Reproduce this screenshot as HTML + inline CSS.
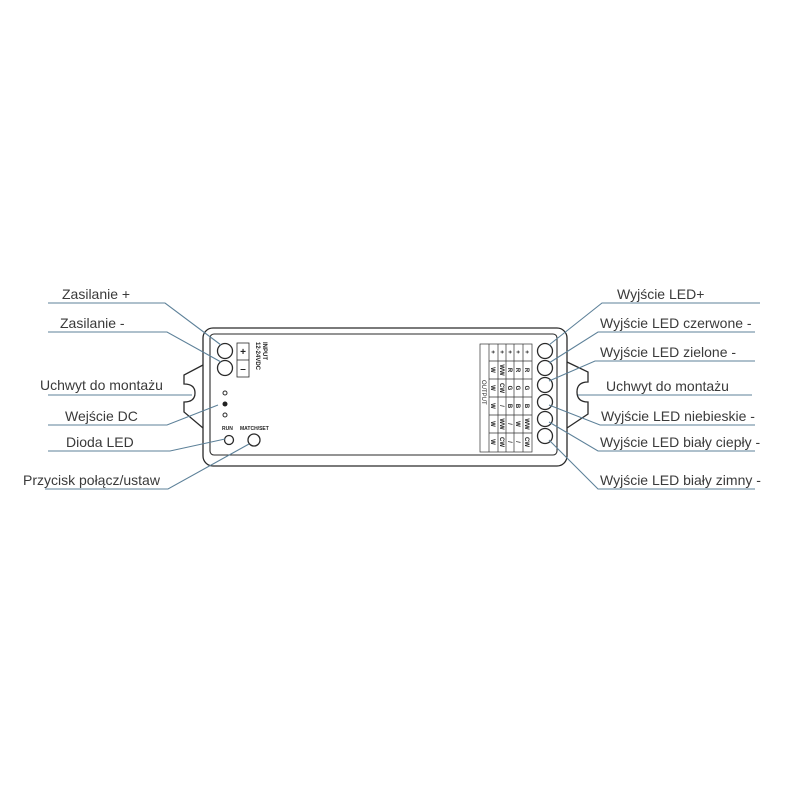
<!DOCTYPE html>
<html><head><meta charset="utf-8"><style>
html,body{margin:0;padding:0;background:#fff;}
svg{display:block;}
.l{font-family:"Liberation Sans",sans-serif;font-size:14px;fill:#3a3a3a;}
.t{font-family:"Liberation Sans",sans-serif;font-size:6px;fill:#222;font-weight:bold;}
</style></head><body>
<svg width="800" height="800" viewBox="0 0 800 800" xmlns="http://www.w3.org/2000/svg">
<g fill="none" stroke="#2a2a2a" stroke-width="1.3">
<path d="M203,365 L184,375 L184,384 Q195,384 195,393 Q195,402 184,402 L184,412 L203,428"/>
<path d="M567,362 L588,372 L588,382 Q577,382 577,392 Q577,402 588,402 L588,414 L567,428"/>
<rect x="203" y="328" width="364" height="138" rx="10"/>
<rect x="210" y="334" width="347" height="121" rx="4" stroke-width="1.1"/>
<circle cx="225" cy="351" r="7.5"/>
<circle cx="225" cy="368" r="7.5"/>
<circle cx="229" cy="440" r="4.5"/>
<circle cx="254" cy="440" r="6"/>
<circle cx="225" cy="393" r="2" stroke-width="1"/>
<circle cx="225" cy="415" r="2" stroke-width="1"/>
<rect x="237" y="343" width="12" height="34" stroke-width="0.8"/>
<line x1="237" y1="360" x2="249" y2="360" stroke-width="0.8"/>
<circle cx="545" cy="351" r="7.5"/>
<circle cx="545" cy="368" r="7.5"/>
<circle cx="545" cy="385" r="7.5"/>
<circle cx="545" cy="402" r="7.5"/>
<circle cx="545" cy="419" r="7.5"/>
<circle cx="545" cy="436" r="7.5"/>
</g>
<circle cx="225" cy="404" r="2.5" fill="#222"/>
<text x="243" y="355" class="t" text-anchor="middle" style="font-size:10px">+</text>
<text x="243" y="372" class="t" text-anchor="middle" style="font-size:10px">–</text>
<text class="t" transform="translate(263,342) rotate(90)">INPUT</text>
<text class="t" transform="translate(256,342) rotate(90)">12-24VDC</text>
<text x="222" y="430" class="t" style="font-size:5px">RUN</text>
<text x="240" y="430" class="t" style="font-size:5px">MATCH/SET</text>
<g stroke="#333" stroke-width="0.7" fill="none">
<rect x="480" y="344" width="52" height="108"/>
<line x1="489" y1="344" x2="489" y2="452"/>
<line x1="498" y1="344" x2="498" y2="452"/>
<line x1="506" y1="344" x2="506" y2="452"/>
<line x1="514" y1="344" x2="514" y2="452"/>
<line x1="523" y1="344" x2="523" y2="452"/>
<line x1="489" y1="361" x2="532" y2="361"/>
<line x1="489" y1="379" x2="532" y2="379"/>
<line x1="489" y1="397" x2="532" y2="397"/>
<line x1="489" y1="415" x2="532" y2="415"/>
<line x1="489" y1="433" x2="532" y2="433"/>
</g>
<text class="t" transform="translate(482,380) rotate(90)" style="font-weight:normal">OUTPUT</text>
<g class="t" text-anchor="middle">
<text transform="translate(491,352) rotate(90)">+</text><text transform="translate(500,352) rotate(90)">+</text><text transform="translate(508,352) rotate(90)">+</text><text transform="translate(516,352) rotate(90)">+</text><text transform="translate(525,352) rotate(90)">+</text>
<text transform="translate(491,370) rotate(90)">W</text><text transform="translate(500,370) rotate(90)">WW</text><text transform="translate(508,370) rotate(90)">R</text><text transform="translate(516,370) rotate(90)">R</text><text transform="translate(525,370) rotate(90)">R</text>
<text transform="translate(491,388) rotate(90)">W</text><text transform="translate(500,388) rotate(90)">CW</text><text transform="translate(508,388) rotate(90)">G</text><text transform="translate(516,388) rotate(90)">G</text><text transform="translate(525,388) rotate(90)">G</text>
<text transform="translate(491,406) rotate(90)">W</text><text transform="translate(500,406) rotate(90)">/</text><text transform="translate(508,406) rotate(90)">B</text><text transform="translate(516,406) rotate(90)">B</text><text transform="translate(525,406) rotate(90)">B</text>
<text transform="translate(491,424) rotate(90)">W</text><text transform="translate(500,424) rotate(90)">WW</text><text transform="translate(508,424) rotate(90)">/</text><text transform="translate(516,424) rotate(90)">W</text><text transform="translate(525,424) rotate(90)">WW</text>
<text transform="translate(491,442) rotate(90)">W</text><text transform="translate(500,442) rotate(90)">CW</text><text transform="translate(508,442) rotate(90)">/</text><text transform="translate(516,442) rotate(90)">/</text><text transform="translate(525,442) rotate(90)">CW</text>
</g>
<g fill="none" stroke="#5d8199" stroke-width="1.1">
<polyline points="48,303 165,303 221,345"/>
<polyline points="48,332 167,332 221,362"/>
<polyline points="48,395 192,395"/>
<polyline points="48,425 167,425 218,405"/>
<polyline points="48,451 170,451 225,439"/>
<polyline points="45,489 168,489 249,444"/>
<polyline points="760,303 602,303 549,345"/>
<polyline points="755,332 598,332 549,363"/>
<polyline points="755,361 595,361 549,381"/>
<polyline points="752,395 578,395"/>
<polyline points="755,425 600,425 549,405"/>
<polyline points="755,451 598,451 549,422"/>
<polyline points="755,489 598,489 549,440"/>
</g>
<g class="l">
<text x="62" y="299">Zasilanie +</text>
<text x="60" y="328">Zasilanie -</text>
<text x="40" y="390">Uchwyt do montażu</text>
<text x="65" y="421">Wejście DC</text>
<text x="66" y="447">Dioda LED</text>
<text x="23" y="485">Przycisk połącz/ustaw</text>
<text x="617" y="299">Wyjście LED+</text>
<text x="600" y="328">Wyjście LED czerwone -</text>
<text x="600" y="357">Wyjście LED zielone -</text>
<text x="606" y="391">Uchwyt do montażu</text>
<text x="601" y="421">Wyjście LED niebieskie -</text>
<text x="600" y="447">Wyjście LED biały ciepły -</text>
<text x="600" y="485">Wyjście LED biały zimny -</text>
</g>
</svg>
</body></html>
